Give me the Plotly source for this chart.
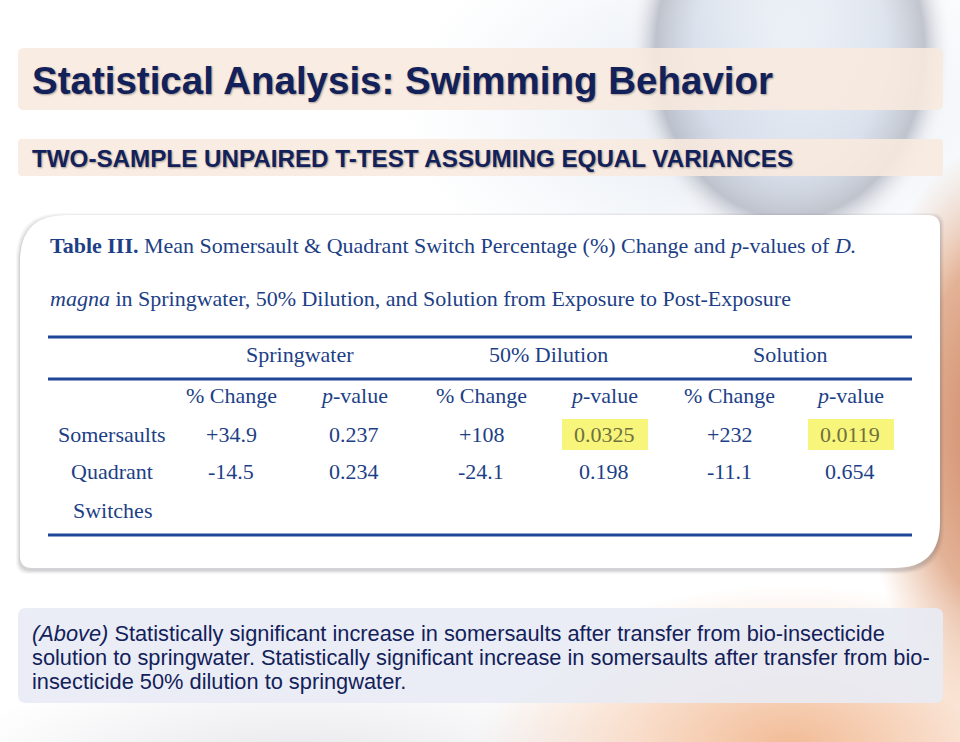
import numpy as np
import plotly.graph_objects as go

# ---------------- data ----------------
slide_title = "Statistical Analysis: Swimming Behavior"
slide_subtitle = "TWO-SAMPLE UNPAIRED T-TEST ASSUMING EQUAL VARIANCES"
caption_line1 = "<b>Table III.</b> Mean Somersault &amp; Quadrant Switch Percentage (%) Change and <i>p</i>-values of <i>D.</i>"
caption_line2 = "<i>magna</i> in Springwater, 50% Dilution, and Solution from Exposure to Post-Exposure"
groups = ["Springwater", "50% Dilution", "Solution"]
subheaders = ["% Change", "<i>p</i>-value"] * 3
row_labels = ["Somersaults", "Quadrant<br>Switches"]
pct_change = [["+34.9", "+108", "+232"], ["-14.5", "-24.1", "-11.1"]]
p_values = [["0.237", "0.0325", "0.0119"], ["0.234", "0.198", "0.654"]]
significant = [[False, True, True], [False, False, False]]
note_lines = [
    "<i>(Above)</i> Statistically significant increase in somersaults after transfer from bio-insecticide",
    "solution to springwater. Statistically significant increase in somersaults after transfer from bio-",
    "insecticide 50% dilution to springwater.",
]

# ---------------- layout helpers ----------------
W, H = 960, 742
NAVY = "#13215a"
TBL = "#1d3f86"
RULE = "#1f4597"
SERIF = "Liberation Serif, Times New Roman, serif"
SANS = "Liberation Sans, Arial, sans-serif"
FS = 22


def rrect(x0, y0, x1, y1, rtl, rtr, rbr, rbl):
    return (f"M{x0+rtl},{y0} L{x1-rtr},{y0} Q{x1},{y0} {x1},{y0+rtr} "
            f"L{x1},{y1-rbr} Q{x1},{y1} {x1-rbr},{y1} L{x0+rbl},{y1} "
            f"Q{x0},{y1} {x0},{y1-rbl} L{x0},{y0+rtl} Q{x0},{y0} {x0+rtl},{y0} Z")


fig = go.Figure()


def blob(cx, cy, rx, ry, scale):
    t = np.linspace(0, 2 * np.pi, 160)
    fig.add_trace(go.Scatter(
        x=cx + rx * np.cos(t), y=cy + ry * np.sin(t), mode="lines",
        line=dict(width=0), fill="toself", hoverinfo="skip", showlegend=False,
        fillgradient=dict(type="radial", colorscale=scale),
    ))


# soft background blobs
blob(300, 770, 360, 110, [[0, "rgba(200,200,210,0.45)"], [1, "rgba(200,200,210,0)"]])
blob(790, 745, 310, 160, [[0, "rgba(238,165,115,0.75)"], [1, "rgba(238,165,115,0)"]])
blob(1000, 430, 140, 290, [[0, "rgba(200,120,85,0.95)"], [0.6, "rgba(215,145,105,0.7)"], [1, "rgba(230,170,130,0)"]])
blob(740, 110, 340, 200, [[0, "rgba(195,210,228,0.45)"], [1, "rgba(195,210,228,0)"]])
blob(790, 50, 160, 200, [[0, "rgba(228,235,244,0.2)"], [0.6, "rgba(190,200,220,0.4)"],
                         [0.84, "rgba(140,145,160,0.5)"], [0.94, "rgba(215,215,222,0.3)"],
                         [1, "rgba(235,235,240,0)"]])

shapes = []
banner = "rgba(248,233,222,0.88)"
shapes.append(dict(type="path", path=rrect(18, 48, 943, 110, 6, 6, 6, 6),
                   fillcolor=banner, line=dict(width=0)))
shapes.append(dict(type="path", path=rrect(18, 139, 943, 176, 4, 4, 4, 4),
                   fillcolor=banner, line=dict(width=0)))
for i, a in enumerate([0.05, 0.06, 0.08, 0.10]):
    d = 4 - i
    shapes.append(dict(type="path",
                       path=rrect(20 - d, 215 - d + 2, 940 + d, 568 + d + 2, 46, 12, 46, 12),
                       fillcolor=f"rgba(90,90,100,{a})", line=dict(width=0)))
shapes.append(dict(type="path", path=rrect(20, 215, 940, 568, 46, 12, 46, 12),
                   fillcolor="white", line=dict(width=0)))
shapes.append(dict(type="path", path=rrect(18, 608, 943, 703, 8, 8, 8, 8),
                   fillcolor="rgba(232,235,244,0.9)", line=dict(width=0)))

for y in [337, 379, 535]:
    shapes.append(dict(type="line", x0=48, x1=912, y0=y, y1=y,
                       line=dict(color=RULE, width=3)))

group_x = [300, 548, 790]
sub_x = [231, 354, 481, 604, 729, 850]
row_y = [434, 471]
label_x = 112

for r in range(len(row_labels)):
    for g in range(len(groups)):
        if significant[r][g]:
            cx = sub_x[2 * g + 1]
            shapes.append(dict(type="rect", x0=cx - 42, x1=cx + 44, y0=row_y[r] - 15, y1=row_y[r] + 16,
                               fillcolor="#f7f57a", line=dict(width=0)))

for s in shapes:
    s["layer"] = "above"

ann = []
shadow = "1px 1px 2px rgba(0,0,0,0.35)"
ann.append(dict(x=30, y=80, text=f"<b>{slide_title}</b>", xanchor="left", yanchor="middle",
                font=dict(family=SANS, size=38.5, color=NAVY, shadow=shadow)))
ann.append(dict(x=30, y=158, text=slide_subtitle, xanchor="left", yanchor="middle",
                font=dict(family=SANS, size=24.2, color=NAVY, weight=600, shadow=shadow)))
ann.append(dict(x=48, y=245, text=caption_line1, xanchor="left", yanchor="middle",
                font=dict(family=SERIF, size=FS, color=TBL)))
ann.append(dict(x=48, y=298, text=caption_line2, xanchor="left", yanchor="middle",
                font=dict(family=SERIF, size=FS, color=TBL)))
for g, name in enumerate(groups):
    ann.append(dict(x=group_x[g], y=354, text=name, xanchor="center", yanchor="middle",
                    font=dict(family=SERIF, size=FS, color=TBL)))
for i, s in enumerate(subheaders):
    ann.append(dict(x=sub_x[i], y=395, text=s, xanchor="center", yanchor="middle",
                    font=dict(family=SERIF, size=FS, color=TBL)))
ann.append(dict(x=label_x, y=434, text="Somersaults", xanchor="center", yanchor="middle",
                font=dict(family=SERIF, size=FS, color=TBL)))
ann.append(dict(x=label_x, y=471, text="Quadrant", xanchor="center", yanchor="middle",
                font=dict(family=SERIF, size=FS, color=TBL)))
ann.append(dict(x=label_x, y=510, text="Switches", xanchor="center", yanchor="middle",
                font=dict(family=SERIF, size=FS, color=TBL)))
for r in range(len(row_labels)):
    for g in range(len(groups)):
        ann.append(dict(x=sub_x[2 * g], y=row_y[r], text=pct_change[r][g], xanchor="center",
                        yanchor="middle", font=dict(family=SERIF, size=FS, color=TBL)))
        ann.append(dict(x=sub_x[2 * g + 1], y=row_y[r], text=p_values[r][g], xanchor="center",
                        yanchor="middle",
                        font=dict(family=SERIF, size=FS,
                                  color="#6f7040" if significant[r][g] else TBL)))
for i, line in enumerate(note_lines):
    ann.append(dict(x=30, y=633 + 24 * i, text=line, xanchor="left", yanchor="middle",
                    font=dict(family=SANS, size=21.8, color=NAVY)))

for a in ann:
    a.update(xref="x", yref="y", showarrow=False)

fig.update_layout(
    width=W, height=H, margin=dict(l=0, r=0, t=0, b=0),
    paper_bgcolor="white", plot_bgcolor="rgba(0,0,0,0)",
    xaxis=dict(range=[0, W], visible=False, fixedrange=True),
    yaxis=dict(range=[H, 0], visible=False, fixedrange=True),
    shapes=shapes, annotations=ann, showlegend=False,
)

fig.write_html("out.html", config={"displayModeBar": False},
               post_script="document.body.style.margin='0';document.body.style.overflow='hidden';")
